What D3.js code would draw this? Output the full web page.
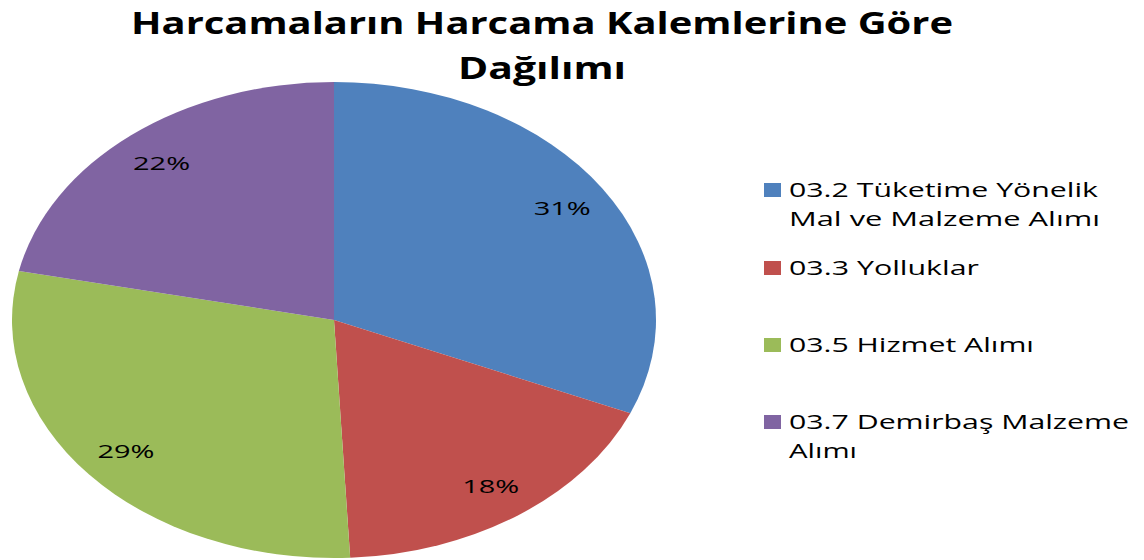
<!DOCTYPE html>
<html>
<head>
<meta charset="utf-8">
<script src="https://cdn.jsdelivr.net/npm/d3@7"></script>
<style>
    body { margin: 0; background: #fff; }
    svg { display: block; font-family: "Open Sans", sans-serif; }
</style>
</head>
<body>
<svg id="chart" width="1144" height="560"></svg>
<script>
"use strict";

// chart data (shares estimated from slice edges)
const titleLines = ["Harcamaların Harcama Kalemlerine Göre", "Dağılımı"];
const categories = [
    "03.2 Tüketime Yönelik Mal ve Malzeme Alımı",
    "03.3 Yolluklar",
    "03.5 Hizmet Alımı",
    "03.7 Demirbaş Malzeme Alımı"
];
const legendLines = [
    ["03.2 Tüketime Yönelik", "Mal ve Malzeme Alımı"],
    ["03.3 Yolluklar"],
    ["03.5 Hizmet Alımı"],
    ["03.7 Demirbaş Malzeme", "Alımı"]
];
const values = [31.4, 17.8, 29.1, 21.7];
const colors = ["#4F81BD", "#C0504D", "#9BBB59", "#8064A2"];

{
    const svg = d3.select("#chart"),
        cx = 334,
        cy = 320,
        rx = 322,
        ry = 238,
        sx = rx / ry,
        total = d3.sum(values);

    // title
    const titleWidths = [822, 168];
    svg.append("g")
        .selectAll("text")
        .data(titleLines)
        .join("text")
        .attr("x", 542)
        .attr("y", (d, i) => 34 + i * 45)
        .attr("text-anchor", "middle")
        .attr("font-size", 31)
        .attr("font-weight", "bold")
        .attr("fill", "#000")
        .attr("textLength", (d, i) => titleWidths[i])
        .attr("lengthAdjust", "spacingAndGlyphs")
        .text(d => d);

    const pie = d3.pie().sort(null).value(d => d)(values);
    const arc = d3.arc().innerRadius(0).outerRadius(ry);
    const labelArc = d3.arc().innerRadius(ry * 0.85).outerRadius(ry * 0.85);

    // pie, drawn as a circle and stretched into the ellipse of the reference
    svg.append("g")
        .attr("transform", `translate(${cx},${cy}) scale(${sx},1)`)
        .selectAll("path")
        .data(pie)
        .join("path")
        .attr("d", arc)
        .attr("fill", (d, i) => colors[i]);

    svg.append("g")
        .attr("transform", `translate(${cx},${cy})`)
        .selectAll("text")
        .data(pie)
        .join("text")
        .attr("x", d => labelArc.centroid(d)[0] * sx)
        .attr("y", d => labelArc.centroid(d)[1])
        .attr("dy", "0.35em")
        .attr("text-anchor", "middle")
        .attr("font-size", 19)
        .attr("fill", "#000")
        .attr("textLength", 57)
        .attr("lengthAdjust", "spacingAndGlyphs")
        .text(d => `${Math.round(d.value / total * 100)}%`);

    // legend
    const legendTop = [183, 261, 338, 415];
    const lineWidths = [[309, 311], [190], [245], [340, 68]];
    const legend = svg.append("g")
        .selectAll("g")
        .data(categories)
        .join("g")
        .attr("transform", (d, i) => `translate(764,${legendTop[i]})`);

    legend.append("rect")
        .attr("width", 17)
        .attr("height", 14)
        .attr("fill", (d, i) => colors[i]);

    legend.each(function (d, i) {
        d3.select(this)
            .selectAll("text")
            .data(legendLines[i])
            .join("text")
            .attr("x", 25)
            .attr("y", (t, j) => 14 + j * 29)
            .attr("font-size", 20)
            .attr("fill", "#000")
            .attr("textLength", (t, j) => lineWidths[i][j])
            .attr("lengthAdjust", "spacingAndGlyphs")
            .text(t => t);
    });
}
</script>
</body>
</html>
